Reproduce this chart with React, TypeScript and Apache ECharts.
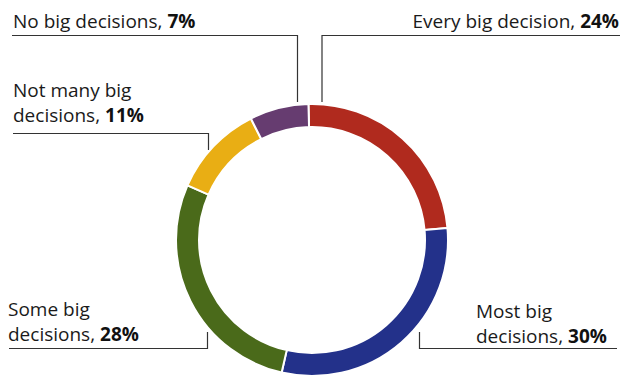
import React, { useEffect, useRef } from "react";
import * as echarts from "echarts";

const categories = [
  "Every big decision",
  "Most big decisions",
  "Some big decisions",
  "Not many big decisions",
  "No big decisions",
];
const values = [24, 30, 28, 11, 7];
const colors = ["#b02a1e", "#23318a", "#4a6a1a", "#e9ae14", "#663c70"];
// label text lines (last line is followed by the bold percentage)
const labelLines = [
  ["Every big decision, "],
  ["Most big", "decisions, "],
  ["Some big", "decisions, "],
  ["Not many big", "decisions, "],
  ["No big decisions, "],
];

const FONT = "'Open Sans', 'Noto Sans', sans-serif";
const FS = 19;
const LH = 25;
const BASE_OFFSET = 20;

export default function App() {
  const ref = useRef<HTMLDivElement>(null);
  useEffect(() => {
    if (!ref.current) return;
    const chart = echarts.init(ref.current, null, { renderer: "svg" });

    // label anchor layout: [x, baselineOfFirstLine, align]
    const anchors: [number, number, string][] = [
      [619, 28, "right"],
      [476, 318, "left"],
      [8, 316, "left"],
      [13, 97, "left"],
      [13, 28, "left"],
    ];
    const leaders: number[][][] = [
      [[322, 102], [322, 35.5], [620, 35.5]],
      [[419.5, 332], [419.5, 348.5], [617, 348.5]],
      [[207.5, 332], [207.5, 348.5], [9, 348.5]],
      [[208.5, 150], [208.5, 133.5], [13, 133.5]],
      [[297.5, 102], [297.5, 35.5], [12, 35.5]],
    ];

    const graphics: any[] = [];
    categories.forEach((c, i) => {
      const lines = labelLines[i];
      const [x, yFirst, align] = anchors[i];
      const rows = lines.map((l, j) =>
        j === lines.length - 1 ? `{a|${l}}{b|${values[i]}%}` : `{a|${l}}`
      );
      graphics.push({
        type: "text",
        x,
        y: yFirst - BASE_OFFSET,
        style: {
          text: rows.join("\n"),
          align,
          verticalAlign: "top",
          rich: {
            a: { fontFamily: FONT, fontSize: FS, fill: "#1a1a1a", lineHeight: LH },
            b: { fontFamily: FONT, fontSize: FS, fontWeight: "bold", fill: "#111111", lineHeight: LH },
          },
        },
      });
      graphics.push({
        type: "polyline",
        shape: { points: leaders[i] },
        style: { stroke: "#333333", lineWidth: 1.2, fill: null },
      });
    });

    chart.setOption({
      animation: false,
      backgroundColor: "#ffffff",
      series: [
        {
          type: "pie",
          center: [312, 240],
          radius: [113, 136],
          startAngle: 91.5,
          clockwise: true,
          label: { show: false },
          labelLine: { show: false },
          emphasis: { disabled: true },
          itemStyle: { borderColor: "#ffffff", borderWidth: 2 },
          data: categories.map((c, i) => ({
            name: c,
            value: values[i],
            itemStyle: { color: colors[i] },
          })),
        },
      ],
      graphic: graphics,
    });
    return () => chart.dispose();
  }, []);
  return (
    <div
      ref={ref}
      style={{ position: "fixed", left: 0, top: 0, width: 624, height: 376 }}
    />
  );
}
